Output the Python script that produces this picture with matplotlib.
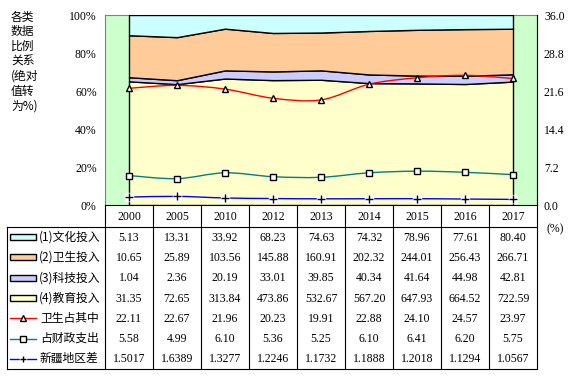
import matplotlib
matplotlib.use('Agg')
from matplotlib import pyplot as plt
from matplotlib.path import Path
from matplotlib.patches import PathPatch, Rectangle
import numpy as np

years = ['2000', '2005', '2010', '2012', '2013', '2014', '2015', '2016', '2017']
culture = [5.13, 13.31, 33.92, 68.23, 74.63, 74.32, 78.96, 77.61, 80.40]
health = [10.65, 25.89, 103.56, 145.88, 160.91, 202.32, 244.01, 256.43, 266.71]
tech = [1.04, 2.36, 20.19, 33.01, 39.85, 40.34, 41.64, 44.98, 42.81]
edu = [31.35, 72.65, 313.84, 473.86, 532.67, 567.20, 647.93, 664.52, 722.59]
health_share = [22.11, 22.67, 21.96, 20.23, 19.91, 22.88, 24.10, 24.57, 23.97]
fiscal_share = [5.58, 4.99, 6.10, 5.36, 5.25, 6.10, 6.41, 6.20, 5.75]
xj_gap = [1.5017, 1.6389, 1.3277, 1.2246, 1.1732, 1.1888, 1.2018, 1.1294, 1.0567]
y2_ticks = ['0.0', '7.2', '14.4', '21.6', '28.8', '36.0']

area_names = ['(1)文化投入', '(2)卫生投入', '(3)科技投入', '(4)教育投入']
area_colors = ['#CCFFFF', '#FFCC99', '#CCCCFF', '#FFFFCC']
line_names = ['卫生占其中', '占财政支出', '新疆地区差']
line_colors = ['#FF0000', '#008080', '#0000FF']
line_markers = ['^', 's', '+']

CJK = ['Noto Sans CJK SC', 'DejaVu Sans']
SERIF = 'Liberation Serif'

W, H = 577, 376
L, R, T, B = 105, 537, 15, 205


def smooth_path(x, y):
    # bezier segments like excel's smoothed line
    n = len(x)
    verts = [(x[0], y[0])]
    codes = [Path.MOVETO]
    for i in range(n - 1):
        a = i - 1 if i > 0 else i
        d = i + 2 if i + 2 < n else i + 1
        c1 = (x[i] + (x[i + 1] - x[a]) / 6, y[i] + (y[i + 1] - y[a]) / 6)
        c2 = (x[i + 1] - (x[d] - x[i]) / 6, y[i + 1] - (y[d] - y[i]) / 6)
        verts += [c1, c2, (x[i + 1], y[i + 1])]
        codes += [Path.CURVE4] * 3
    return Path(verts, codes)


fig = plt.figure(figsize=(W / 100, H / 100), dpi=100)
ax = fig.add_axes([L / W, 1 - B / H, (R - L) / W, (B - T) / H])
ax.set_facecolor('#CCFFCC')

x = np.arange(len(years))
total = np.array(culture) + np.array(health) + np.array(tech) + np.array(edu)
stack = [np.array(v) / total * 100 for v in (edu, tech, health, culture)]
ax.stackplot(x, *stack, colors=area_colors[::-1], edgecolor='black', linewidth=1)

ax.set_xlim(-0.5, len(years) - 0.5)
ax.set_ylim(0, 100)
ax.set_xticks([])
ax.set_yticks(range(0, 101, 20))
ax.set_yticklabels([f'{v}%' for v in range(0, 101, 20)], fontfamily=SERIF, fontsize=8.5)
ax.tick_params(axis='y', length=0, pad=6)
for s in ax.spines.values():
    s.set_color('#808080')
    s.set_zorder(0.5)
ax.spines['bottom'].set_color('black')

ax2 = ax.twinx()
ax2.set_ylim(0, 36)
ax2.set_yticks(np.arange(0, 36.1, 7.2))
ax2.set_yticklabels(y2_ticks, fontfamily=SERIF, fontsize=8.5)
ax2.tick_params(axis='y', length=0, pad=5)
for k in ('top', 'left', 'bottom'):
    ax2.spines[k].set_visible(False)
ax2.spines['right'].set_color('black')

for vals, c, m in zip((health_share, fiscal_share, xj_gap), line_colors, line_markers):
    ax2.add_patch(PathPatch(smooth_path(x, vals), fill=False, edgecolor=c, linewidth=1, zorder=3))
    if m == '+':
        ax2.plot(x, vals, linestyle='none', marker='s', markersize=6, markerfacecolor='white',
                 markeredgecolor='white', zorder=4, clip_on=False)
        ax2.plot(x, vals, linestyle='none', marker='+', markersize=5.5, markeredgecolor='black',
                 markeredgewidth=1, zorder=5, clip_on=False)
    else:
        ax2.plot(x, vals, linestyle='none', marker=m, markersize=5, markerfacecolor='white',
                 markeredgecolor='black', markeredgewidth=1, zorder=5, clip_on=False)

# data table below the plot
at = fig.add_axes([0, 0, 1, 1], facecolor='none')
at.set_xlim(0, W)
at.set_ylim(H, 0)
at.axis('off')

col_w = (R - L) / len(years)
top_rows = 227
bottom_rows = 369
row_h = (bottom_rows - top_rows) / 7
left_tab = 7
lw_tab = 0.8

at.plot([left_tab, R], [top_rows, top_rows], color='black', lw=lw_tab)
at.plot([left_tab, R], [bottom_rows, bottom_rows], color='black', lw=lw_tab)
at.plot([left_tab, left_tab], [top_rows, bottom_rows], color='black', lw=lw_tab)
for i in range(len(years) + 1):
    xx = L + i * col_w
    at.plot([xx, xx], [B, bottom_rows], color='black', lw=lw_tab)

for i, yr in enumerate(years):
    at.text(L + (i + 0.5) * col_w, (B + top_rows) / 2 + 0.5, yr, ha='center', va='center',
            fontfamily=SERIF, fontsize=8.5)

rows = [
    (culture, '{:.2f}'), (health, '{:.2f}'), (tech, '{:.2f}'), (edu, '{:.2f}'),
    (health_share, '{:.2f}'), (fiscal_share, '{:.2f}'), (xj_gap, '{:.4f}'),
]
names = area_names + line_names
for r, (vals, fmt) in enumerate(rows):
    yc = top_rows + (r + 0.5) * row_h
    for i, v in enumerate(vals):
        at.text(L + (i + 0.5) * col_w, yc + 0.5, fmt.format(v), ha='center', va='center',
                fontfamily=SERIF, fontsize=8.5)
    if r < 4:
        at.add_patch(Rectangle((10, yc - 3), 26, 6, facecolor=area_colors[r],
                               edgecolor='black', lw=1))
        at.text(39, yc, names[r], ha='left', va='center', fontfamily=CJK, fontsize=8.5)
    else:
        k = r - 4
        at.plot([10, 36], [yc, yc], color=line_colors[k], lw=1)
        if line_markers[k] == '+':
            at.plot([23], [yc], marker='s', markersize=5, markerfacecolor='white',
                    markeredgecolor='white', linestyle='none')
        at.plot([23], [yc], marker=line_markers[k], markersize=4.5, markerfacecolor='white',
                markeredgecolor='black', markeredgewidth=1, linestyle='none')
        at.text(40, yc, names[r], ha='left', va='center', fontfamily=CJK, fontsize=8.5)

at.text(555, 229, '(%)', ha='center', va='center', fontfamily=SERIF, fontsize=8.5)

title_lines = ['各类', '数据', '比例', '关系', '(绝对', '值转', '为%)']
for i, s in enumerate(title_lines):
    at.text(11, 17 + i * 14.8, s, ha='left', va='center', fontfamily=CJK, fontsize=8.5)

fig.savefig('out.png', dpi=100)
